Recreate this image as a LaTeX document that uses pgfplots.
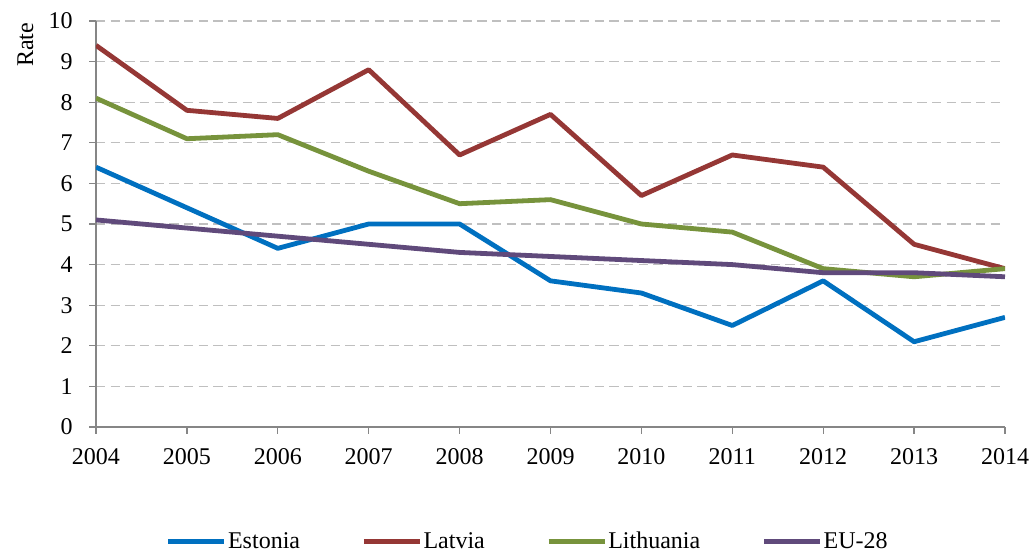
\documentclass[border=0pt]{standalone}
\usepackage{fontspec}
\setmainfont{Liberation Serif}
\usepackage{pgfplots}
\pgfplotsset{compat=1.18}
\usetikzlibrary{calc}
\definecolor{cEst}{HTML}{0070C0}
\definecolor{cLat}{HTML}{953735}
\definecolor{cLit}{HTML}{77933C}
\definecolor{cEU}{HTML}{604A7B}
\definecolor{axisgray}{HTML}{868686}
\definecolor{gridgray}{HTML}{BFBFBF}
\begin{document}
\begin{tikzpicture}
\begin{axis}[
  name=ax, at={(0,0)}, anchor=south west,
  scale only axis, width=681.75pt, height=304.5pt,
  xmin=2004, xmax=2014, ymin=0, ymax=10,
  xtick={2004,2005,...,2014}, ytick={0,1,...,10},
  axis x line=bottom, axis y line=left,
  axis line style={draw=axisgray, line width=1pt, -},
  tick style={draw=axisgray, line width=1pt},
  tick align=outside, major tick length=5pt,
  ymajorgrids, grid style={gridgray, line width=1pt, dash pattern=on 7pt off 4pt},
  /pgf/number format/assume math mode=true,
  /pgf/number format/1000 sep={},
  ticklabel style={font=\fontsize{18}{21}\selectfont},
  xticklabel style={yshift=-7.5pt},
  yticklabel style={xshift=-9pt},
  ylabel={Rate},
  every axis y label/.style={at={(rel axis cs:0,1)}, xshift=-53pt, yshift=-18pt, rotate=90, anchor=center, font=\fontsize{18}{21}\selectfont},
  legend style={at={(rel axis cs:0.4747,0)}, anchor=center, yshift=-86pt, draw=none, fill=none,
    legend columns=4, font=\fontsize{18}{21}\selectfont,
    /tikz/every even column/.append style={column sep=45pt},
    nodes={inner sep=1pt}},
  legend image code/.code={\draw[#1, line width=3.6pt] (0pt,0pt) -- (42pt,0pt);},
  every axis plot/.append style={line width=3.6pt, line join=round, mark=none},
]
\addplot[cEst] coordinates {(2004,6.4)(2005,5.4)(2006,4.4)(2007,5.0)(2008,5.0)(2009,3.6)(2010,3.3)(2011,2.5)(2012,3.6)(2013,2.1)(2014,2.7)};
\addlegendentry{Estonia}
\addplot[cLat] coordinates {(2004,9.4)(2005,7.8)(2006,7.6)(2007,8.8)(2008,6.7)(2009,7.7)(2010,5.7)(2011,6.7)(2012,6.4)(2013,4.5)(2014,3.9)};
\addlegendentry{Latvia}
\addplot[cLit] coordinates {(2004,8.1)(2005,7.1)(2006,7.2)(2007,6.3)(2008,5.5)(2009,5.6)(2010,5.0)(2011,4.8)(2012,3.9)(2013,3.7)(2014,3.9)};
\addlegendentry{Lithuania}
\addplot[cEU] coordinates {(2004,5.1)(2005,4.9)(2006,4.7)(2007,4.5)(2008,4.3)(2009,4.2)(2010,4.1)(2011,4.0)(2012,3.8)(2013,3.8)(2014,3.7)};
\addlegendentry{EU-28}
\end{axis}
\pgfresetboundingbox
\path ($(ax.south west)+(-72pt,-94.5pt)$) rectangle ($(ax.north east)+(20.25pt,15.75pt)$);
\end{tikzpicture}
\end{document}
